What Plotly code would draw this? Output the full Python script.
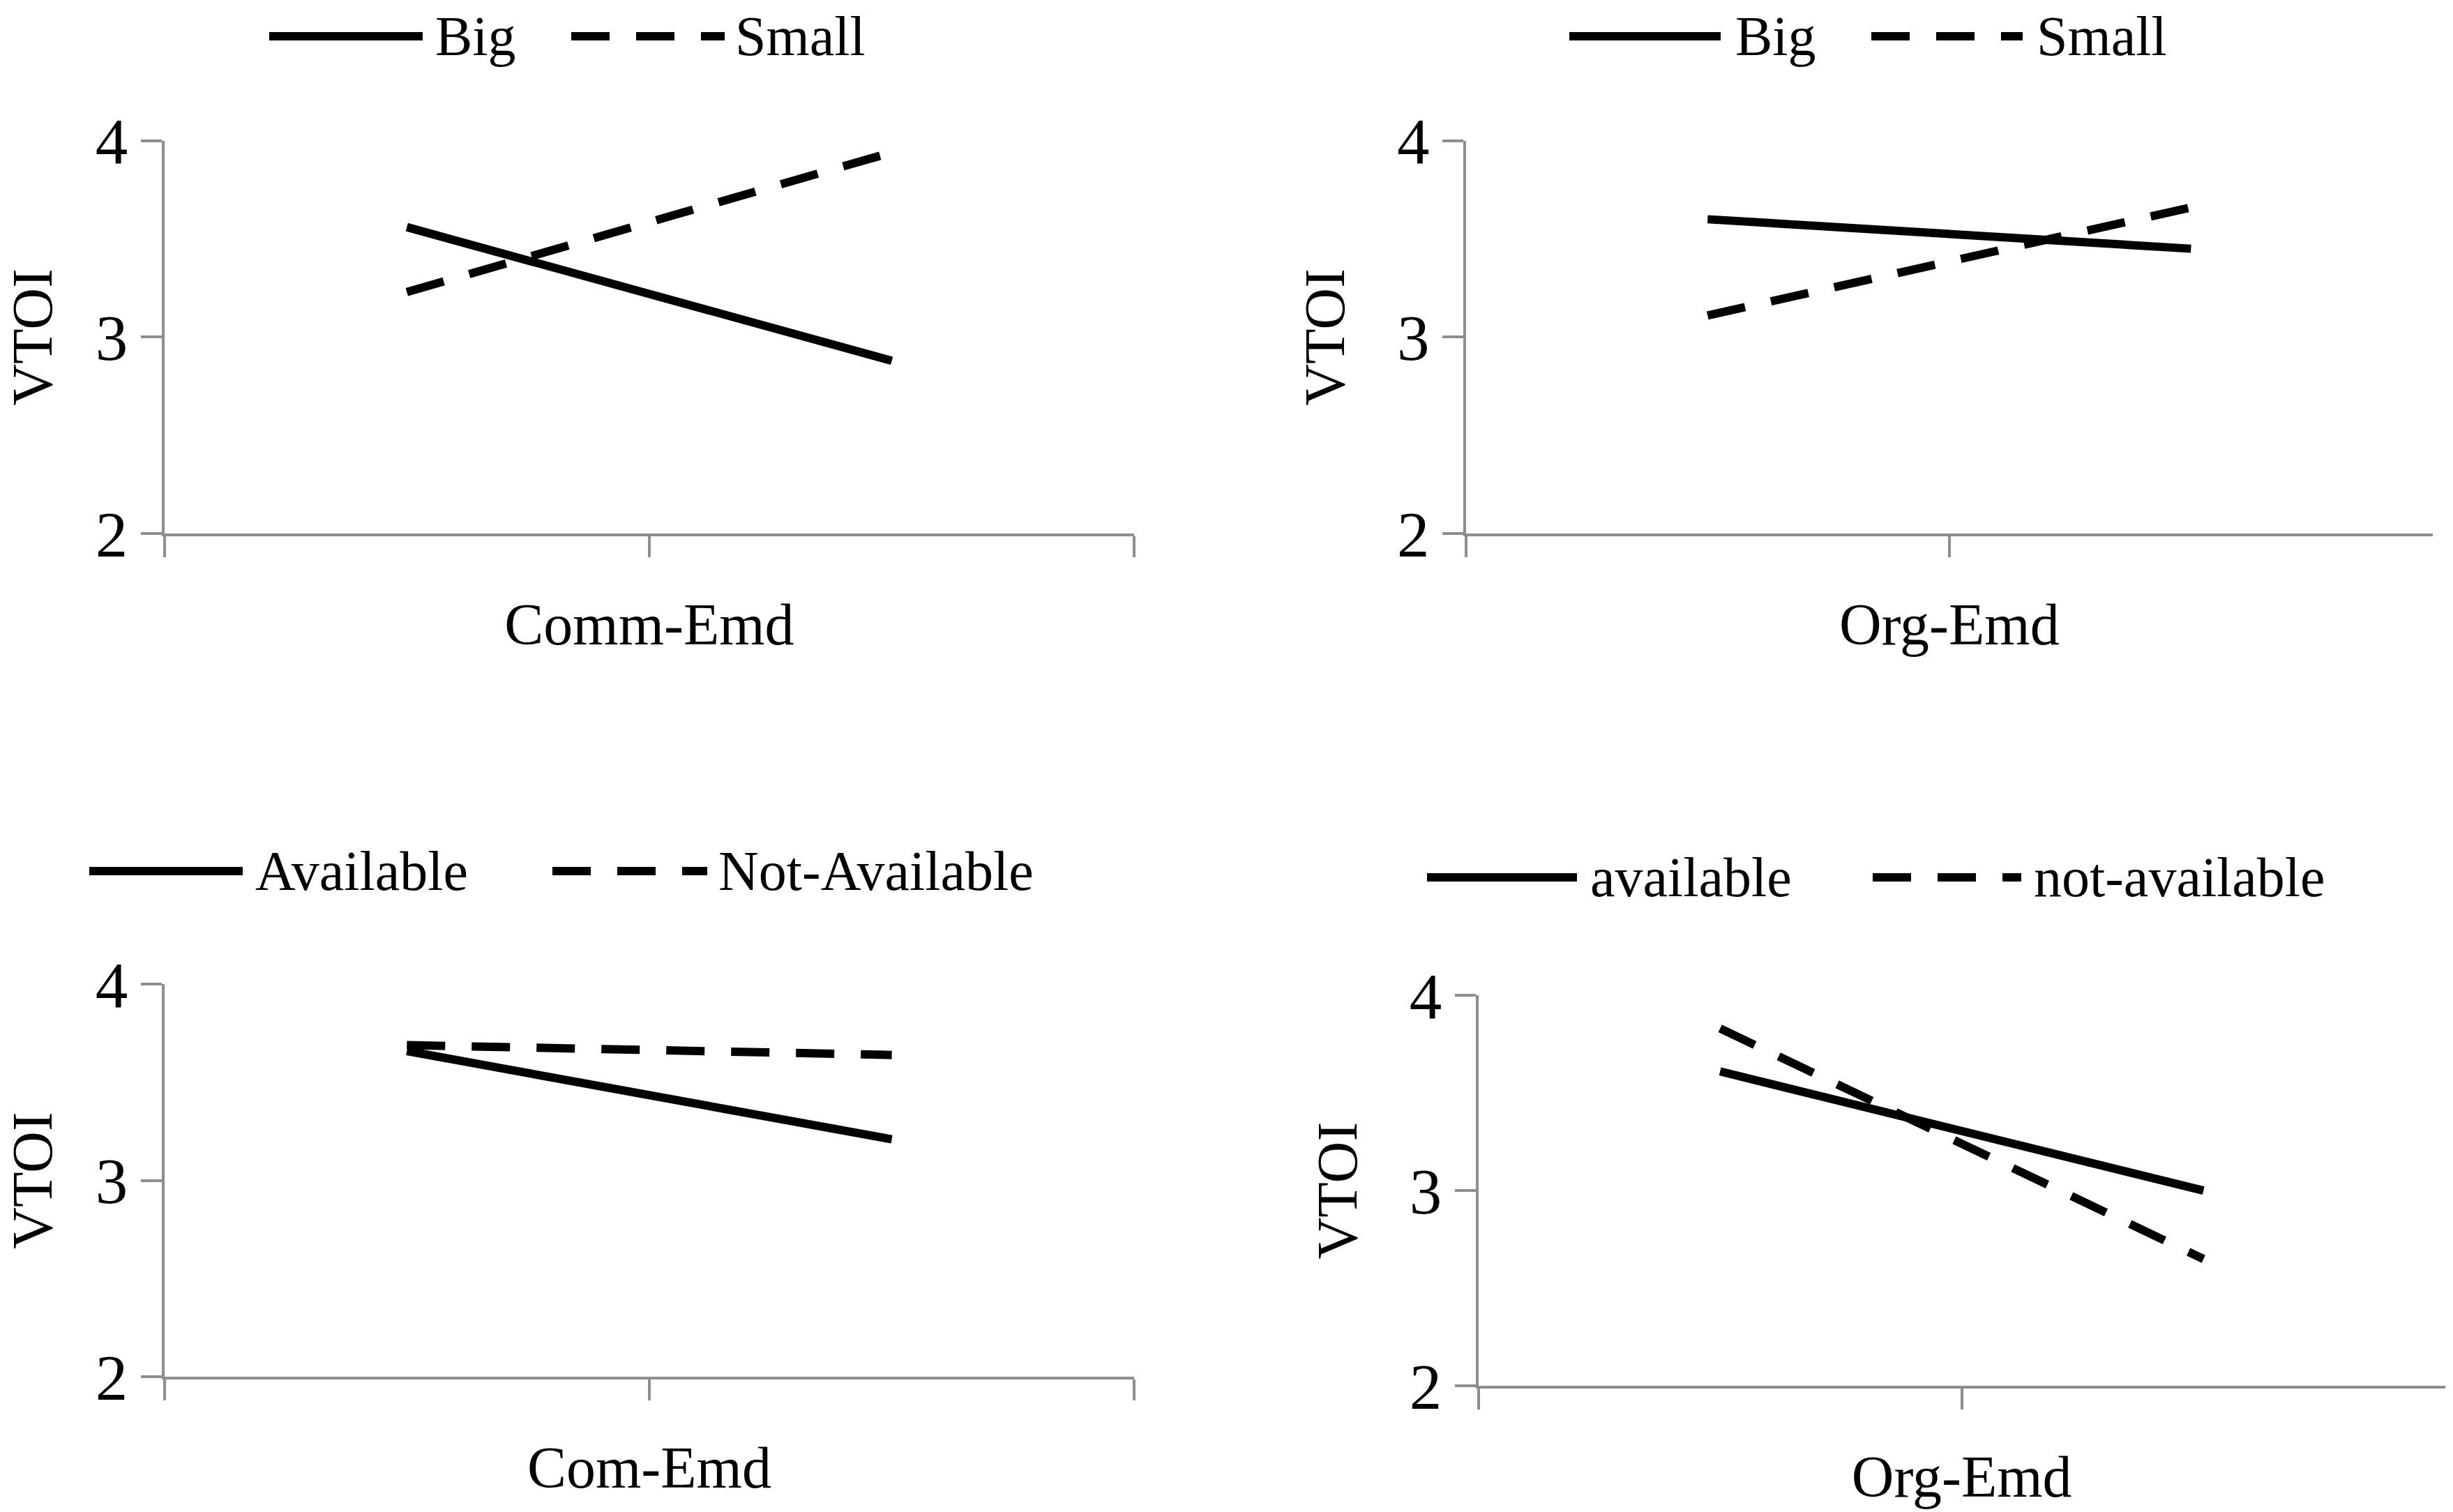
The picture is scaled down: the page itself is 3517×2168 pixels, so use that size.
import plotly.graph_objects as go

# figure size in px (used to place the hand-drawn legends)
W, H = 3517, 2168

# two levels on the x axis (unlabelled in the original)
cats = ["Low", "High"]

# top-left: firm size x Comm-Emd
tl_big = [3.56, 2.88]
tl_small = [3.23, 3.94]
# top-right: firm size x Org-Emd
tr_big = [3.60, 3.45]
tr_small = [3.11, 3.66]
# bottom-left: availability x Com-Emd
bl_avail = [3.66, 3.21]
bl_not = [3.69, 3.64]
# bottom-right: availability x Org-Emd
br_avail = [3.61, 3.00]
br_not = [3.83, 2.65]

x_titles = ["Comm-Emd", "Org-Emd", "Com-Emd", "Org-Emd"]
y_title = "VTOI"
y_ticks = [2, 3, 4]

legend_names = [("Big", "Small"), ("Big", "Small"),
                ("Available", "Not-Available"), ("available", "not-available")]

FONT = "Liberation Serif"
AXIS_COLOR = "#8e8e8e"
LINE_W = 12
DASH = "55px,38px"

# panel domains (paper coords)
domains = [
    ([0.067, 0.4624], [0.647, 0.907]),
    ([0.5976, 0.9917], [0.647, 0.907]),
    ([0.067, 0.4624], [0.0895, 0.349]),
    ([0.6027, 0.9968], [0.0833, 0.3418]),
]

series = [(tl_big, tl_small), (tr_big, tr_small), (bl_avail, bl_not), (br_avail, br_not)]

fig = go.Figure()

for i, (solid, dashed) in enumerate(series):
    n = "" if i == 0 else str(i + 1)
    fig.add_trace(go.Scatter(x=cats, y=solid, mode="lines", name=legend_names[i][0],
                             line=dict(color="black", width=LINE_W),
                             xaxis="x" + n, yaxis="y" + n, showlegend=False))
    fig.add_trace(go.Scatter(x=cats, y=dashed, mode="lines", name=legend_names[i][1],
                             line=dict(color="black", width=LINE_W, dash=DASH),
                             xaxis="x" + n, yaxis="y" + n, showlegend=False))

    xd, yd = domains[i]
    fig.layout["xaxis" + n] = dict(
        domain=xd, anchor="y" + n, type="category", range=[-0.5, 1.5],
        tickson="boundaries", ticks="outside", ticklen=30, tickwidth=3.5,
        tickcolor=AXIS_COLOR, showticklabels=False, showline=True,
        linecolor=AXIS_COLOR, linewidth=3.5, showgrid=False, zeroline=False,
        automargin=False,
        title=dict(text=x_titles[i], font=dict(family=FONT, size=84, color="black"),
                   standoff=98),
    )
    fig.layout["yaxis" + n] = dict(
        domain=yd, anchor="x" + n, range=[2, 4], tickvals=y_ticks,
        ticks="outside", ticklen=30, tickwidth=3.5, tickcolor=AXIS_COLOR,
        showline=True, linecolor=AXIS_COLOR, linewidth=3.5, showgrid=False,
        zeroline=False, automargin=False,
        tickfont=dict(family=FONT, size=93, color="black"),
        title=dict(text=y_title, font=dict(family=FONT, size=83, color="black"),
                   standoff=49),
    )

# legends drawn like the original Excel ones (long line samples)
# (solid x0, solid x1, label x, dashed x0, dashed x1, label x, y) in px
legend_pos = [
    (386, 606, 622, 819, 1039, 1052, 52),
    (2250, 2467, 2486, 2683, 2900, 2918, 52),
    (128, 348, 364, 792, 1014, 1028, 1249),
    (2046, 2261, 2278, 2685, 2898, 2914, 1258),
]

shapes = []
annotations = []
for (names, (s0, s1, st, d0, d1, dt, y)) in zip(legend_names, legend_pos):
    yp = 1 - y / H
    shapes.append(dict(type="line", xref="paper", yref="paper", x0=s0 / W, x1=s1 / W,
                       y0=yp, y1=yp, line=dict(color="black", width=LINE_W)))
    shapes.append(dict(type="line", xref="paper", yref="paper", x0=d0 / W, x1=d1 / W,
                       y0=yp, y1=yp, line=dict(color="black", width=LINE_W, dash=DASH)))
    annotations.append(dict(text=names[0], xref="paper", yref="paper", x=st / W, y=yp,
                            xanchor="left", yanchor="middle", showarrow=False,
                            font=dict(family=FONT, size=80, color="black")))
    annotations.append(dict(text=names[1], xref="paper", yref="paper", x=dt / W, y=yp,
                            xanchor="left", yanchor="middle", showarrow=False,
                            font=dict(family=FONT, size=80, color="black")))

fig.update_layout(
    width=W, height=H,
    margin=dict(l=0, r=0, t=0, b=0),
    paper_bgcolor="white", plot_bgcolor="white",
    showlegend=False,
    shapes=shapes, annotations=annotations,
    font=dict(family=FONT, color="black"),
)

# drop the browser's default body margin so the figure sits at the page corner
fig.write_html("out.html", config={"displayModeBar": False},
               post_script="document.body.style.margin='0';")
